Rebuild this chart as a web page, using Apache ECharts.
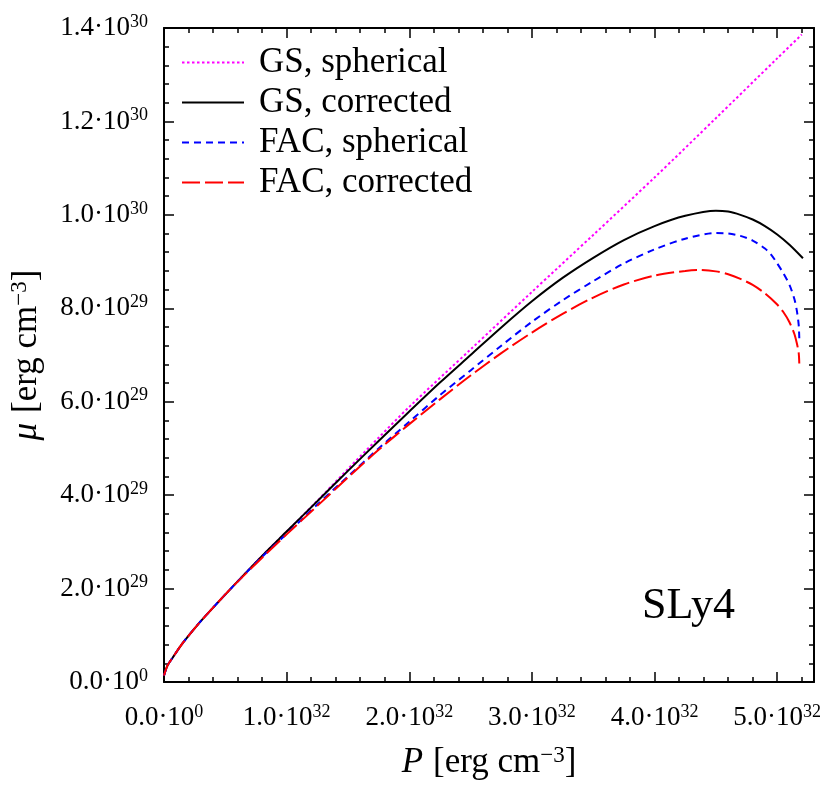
<!DOCTYPE html>
<html>
<head>
<meta charset="utf-8">
<script src="https://cdn.jsdelivr.net/npm/echarts@6/dist/echarts.min.js"></script>
<style>
  html, body { margin: 0; padding: 0; background: #fff; }
  #main { width: 830px; height: 801px; }
</style>
</head>
<body>
<div id="main"></div>
<script>
  // P in units of 1e32 erg/cm^3, mu in units of 1e29 erg/cm^3
  var gsSphP = [0, 0.03, 0.073, 0.146, 0.25, 0.344, 0.545, 0.8, 1.0, 1.25, 1.5, 1.75, 2.0, 2.5, 3.0, 3.5, 4.0, 4.5, 5.0, 5.2];
  var gsSphMu = [0.14, 0.36, 0.53, 0.81, 1.15, 1.43, 2.0, 2.70, 3.22, 3.88, 4.56, 5.23, 5.89, 7.12, 8.35, 9.57, 10.8, 12.07, 13.35, 13.86];

  var gsCorP = [0, 0.03, 0.073, 0.146, 0.25, 0.344, 0.545, 0.8, 1.0, 1.25, 1.5, 1.75, 2.0, 2.25, 2.5, 2.75, 3.0, 3.25, 3.5, 3.75, 4.0, 4.25, 4.5, 4.6, 4.7, 4.8, 4.9, 5.0, 5.1, 5.21];
  var gsCorMu = [0.14, 0.36, 0.53, 0.81, 1.15, 1.43, 2.0, 2.70, 3.22, 3.87, 4.52, 5.16, 5.79, 6.41, 7.0, 7.59, 8.15, 8.65, 9.08, 9.46, 9.76, 9.98, 10.09, 10.07, 10.0, 9.9, 9.76, 9.58, 9.36, 9.07];

  var facSphP = [0, 0.03, 0.073, 0.146, 0.25, 0.344, 0.545, 0.8, 1.0, 1.25, 1.5, 1.75, 2.0, 2.25, 2.5, 2.75, 3.0, 3.25, 3.5, 3.75, 4.0, 4.25, 4.5, 4.6, 4.7, 4.8, 4.9, 4.95, 5.0, 5.05, 5.1, 5.14, 5.16, 5.175, 5.18];
  var facSphMu = [0.14, 0.36, 0.53, 0.81, 1.15, 1.43, 2.0, 2.68, 3.17, 3.80, 4.40, 5.0, 5.57, 6.14, 6.67, 7.2, 7.71, 8.17, 8.58, 8.96, 9.26, 9.49, 9.61, 9.60, 9.55, 9.45, 9.28, 9.15, 8.96, 8.75, 8.5, 8.2, 7.95, 7.65, 7.36];

  var facCorP = [0, 0.03, 0.073, 0.146, 0.25, 0.344, 0.545, 0.8, 1.0, 1.25, 1.5, 1.75, 2.0, 2.25, 2.5, 2.75, 3.0, 3.25, 3.5, 3.75, 4.0, 4.25, 4.35, 4.5, 4.6, 4.7, 4.8, 4.9, 5.0, 5.05, 5.1, 5.14, 5.16, 5.175, 5.18];
  var facCorMu = [0.14, 0.36, 0.53, 0.81, 1.15, 1.43, 2.0, 2.66, 3.16, 3.77, 4.38, 4.97, 5.52, 6.05, 6.56, 7.04, 7.48, 7.88, 8.23, 8.51, 8.7, 8.8, 8.82, 8.79, 8.73, 8.63, 8.5, 8.32, 8.08, 7.92, 7.7, 7.45, 7.25, 7.05, 6.82];

  var seriesNames = ['GS, spherical', 'GS, corrected', 'FAC, spherical', 'FAC, corrected'];

  var FONT = 'Liberation Serif';

  function zip(xs, ys) {
    return xs.map(function (x, i) { return [x, ys[i]]; });
  }

  var tickRich = {
    m: { fontFamily: FONT, fontSize: 27, color: '#000', lineHeight: 30 },
    s: { fontFamily: FONT, fontSize: 18, color: '#000', lineHeight: 18, verticalAlign: 'top' }
  };
  var nameRich = {
    i: { fontFamily: FONT, fontStyle: 'italic', fontSize: 35, color: '#000', lineHeight: 38 },
    r: { fontFamily: FONT, fontSize: 35, color: '#000', lineHeight: 38 },
    s: { fontFamily: FONT, fontSize: 23, color: '#000', lineHeight: 22, verticalAlign: 'top' }
  };

  function xLabel(v) {
    if (Math.abs(v - Math.round(v)) > 1e-6) return '';
    if (v === 0) return '{m|0.0·10}{s|0}';
    return '{m|' + v.toFixed(1) + '·10}{s|32}';
  }
  function yLabel(v) {
    if (v === 0) return '{m|0.0·10}{s|0}';
    if (v < 10) return '{m|' + v.toFixed(1) + '·10}{s|29}';
    return '{m|' + (v / 10).toFixed(1) + '·10}{s|30}';
  }

  var lineBlack = { color: '#000', width: 2 };

  function xAx(pos, interval, len, showLine, label) {
    return {
      type: 'value', position: pos, min: 0, max: 5.3, interval: interval,
      axisLine: { show: showLine, onZero: false, lineStyle: lineBlack },
      axisTick: { show: true, inside: true, length: len, lineStyle: { color: '#000', width: 1.5 } },
      axisLabel: label ? { show: true, margin: 21, formatter: xLabel, rich: tickRich } : { show: false },
      splitLine: { show: false }
    };
  }
  function yAx(pos, label) {
    return {
      type: 'value', position: pos, min: 0, max: 14, interval: 2,
      axisLine: { show: true, onZero: false, lineStyle: lineBlack },
      axisTick: { show: true, inside: true, length: 10, lineStyle: { color: '#000', width: 1.5 } },
      minorTick: { show: true, splitNumber: 5, length: 5, lineStyle: { color: '#000', width: 1.5 } },
      axisLabel: label ? { show: true, margin: 16, formatter: yLabel, rich: tickRich } : { show: false },
      splitLine: { show: false }
    };
  }

  var xMain = xAx('bottom', 1, 10, true, true);
  xMain.name = '{i|P}   {r|[erg cm}{s|−3}{r|]}';
  xMain.nameLocation = 'middle';
  xMain.nameGap = 62;
  xMain.nameTextStyle = { rich: nameRich };

  var yMain = yAx('left', true);
  yMain.name = '{i|μ}   {r|[erg cm}{s|−3}{r|]}';
  yMain.nameLocation = 'middle';
  yMain.nameGap = 118;
  yMain.nameTextStyle = { rich: nameRich };

  function makeSeries(name, data, style) {
    return {
      name: name, type: 'line', xAxisIndex: 0, yAxisIndex: 0,
      data: data, symbol: 'none', showSymbol: false,
      smooth: 0.3,
      lineStyle: style
    };
  }

  var myChart = echarts.init(document.getElementById('main'));
  myChart.setOption({
    animation: false,
    backgroundColor: '#fff',
    grid: { left: 160, right: 16, top: 28, bottom: 119 },
    legend: {
      orient: 'vertical', left: 176, top: 40,
      itemWidth: 62, itemHeight: 14, itemGap: 5,
      itemStyle: { opacity: 0 },
      textStyle: { fontFamily: FONT, fontSize: 35, color: '#000', padding: [0, 0, 0, 10] },
      data: seriesNames
    },
    xAxis: [
      xMain,
      xAx('bottom', 0.2, 5, false, false),
      xAx('top', 1, 10, true, false),
      xAx('top', 0.2, 5, false, false)
    ],
    yAxis: [yMain, yAx('right', false)],
    graphic: [{
      type: 'text', left: 642, top: 584,
      style: { text: 'SLy4', fontFamily: FONT, fontSize: 44, fill: '#000' }
    }],
    series: [
      makeSeries(seriesNames[0], zip(gsSphP, gsSphMu), { color: '#ff00ff', width: 2, type: [2.5, 2.5] }),
      makeSeries(seriesNames[1], zip(gsCorP, gsCorMu), { color: '#000000', width: 2, type: 'solid' }),
      makeSeries(seriesNames[2], zip(facSphP, facSphMu), { color: '#0000ff', width: 2, type: [7, 5] }),
      makeSeries(seriesNames[3], zip(facCorP, facCorMu), { color: '#ff0000', width: 2, type: [18, 5] })
    ]
  });
  window.addEventListener('resize', function () { myChart.resize(); });
</script>
</body>
</html>
